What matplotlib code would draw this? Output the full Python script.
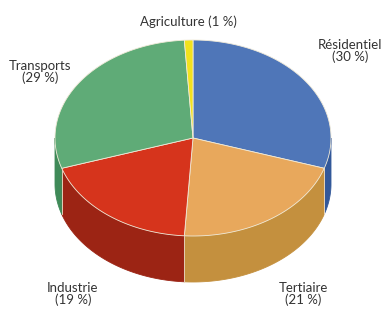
import numpy as np
import matplotlib
matplotlib.use("Agg")
import matplotlib.pyplot as plt
from matplotlib.patches import Polygon

categories = ["Résidentiel", "Tertiaire", "Industrie", "Transports", "Agriculture"]
values = [30, 21, 19, 29, 1]
top_colors = ["#4f76b8", "#e8a85c", "#d6341c", "#5fab77", "#f2e21e"]
side_colors = ["#32589a", "#c4903e", "#9c2414", "#3f8a58", "#c8b810"]
label_texts = ["Résidentiel\n(30 %)", "Tertiaire\n(21 %)", "Industrie\n(19 %)",
               "Transports\n(29 %)", "Agriculture (1 %)"]

W, H = 387, 311
fig = plt.figure(figsize=(W / 100, H / 100), dpi=100)
ax = fig.add_axes([0, 0, 1, 1])
ax.set_xlim(0, W)
ax.set_ylim(H, 0)
ax.axis("off")

cx, cy, rx, ry, depth = 193, 138, 138, 98, 46

def pt(theta_deg, dy=0):
    t = np.radians(theta_deg)
    return cx + rx * np.sin(t), cy - ry * np.cos(t) + dy

total = sum(values)
bounds = np.concatenate([[0], np.cumsum(values) / total * 360])

# side walls (front half: 90..270 clockwise from top)
for i in range(len(values)):
    a0, a1 = bounds[i], bounds[i + 1]
    s0, s1 = max(a0, 90), min(a1, 270)
    if s1 <= s0:
        continue
    th = np.linspace(s0, s1, 80)
    top = [pt(t) for t in th]
    bot = [pt(t, depth) for t in th[::-1]]
    ax.add_patch(Polygon(top + bot, closed=True, facecolor=side_colors[i],
                         edgecolor=side_colors[i], linewidth=0.6, zorder=1))
    for b in (a0, a1):
        if 90 < b < 270:
            x0, y0 = pt(b)
            ax.plot([x0, x0], [y0, y0 + depth], color="#e9d9c0", lw=0.5, zorder=2)

# top faces
for i in range(len(values)):
    a0, a1 = bounds[i], bounds[i + 1]
    th = np.linspace(a0, a1, 120)
    poly = [(cx, cy)] + [pt(t) for t in th]
    ax.add_patch(Polygon(poly, closed=True, facecolor=top_colors[i],
                         edgecolor="#f0ead8", linewidth=0.6, zorder=3))

label_pos = [(350, 51), (303, 294), (73, 294), (40, 72), (188, 22)]
for txt, (x, y) in zip(label_texts, label_pos):
    ax.text(x, y, txt, ha="center", va="center", fontsize=9.5, color="#333333",
            family="Lato", linespacing=1.0, zorder=5)

fig.savefig("out.png", dpi=100)
